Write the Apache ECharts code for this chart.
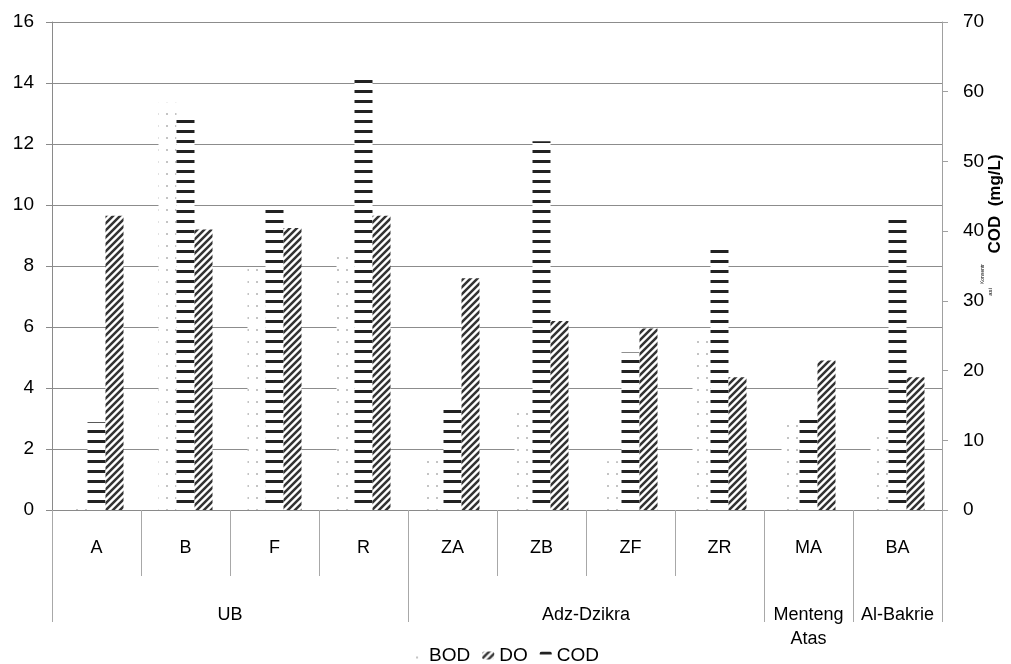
<!DOCTYPE html>
<html><head><meta charset="utf-8">
<script src="https://cdn.jsdelivr.net/npm/echarts@6/dist/echarts.min.js"></script>
<style>html,body{margin:0;padding:0;background:#fff}#c{width:1011px;height:664px}</style>
</head><body><div id="c"></div>
<script>
// ---- data ----
const categories = ['A','B','F','R','ZA','ZB','ZF','ZR','MA','BA'];
const groupNames = ['UB','Adz-Dzikra','Menteng\nAtas','Al-Bakrie'];
const groupSpans = [4,4,1,1];
const bodValues = [0.15, 13.35, 7.9, 8.3, 1.9, 3.5, 1.6, 5.7, 2.9, 2.6];
const doValues  = [9.65, 9.2, 9.25, 9.65, 7.6, 6.2, 5.95, 4.35, 4.9, 4.35];
const codValues = [12.6, 56.2, 43.6, 62.3, 15.1, 52.9, 22.6, 37.7, 13.8, 42.0];
const leftAxis = {min: 0, max: 16, interval: 2};
const rightAxis = {min: 0, max: 70, interval: 10};

// ---- patterns ----
function tile(w, h, draw){const c=document.createElement('canvas');c.width=w;c.height=h;const g=c.getContext('2d');g.fillStyle='#fff';g.fillRect(0,0,w,h);draw(g,w,h);return c;}
const codPat = tile(4, 10, (g,w,h)=>{g.fillStyle='#222';g.fillRect(0,0,w,3);});
const doPat = tile(7, 7, (g,s)=>{g.strokeStyle='#333';g.lineWidth=2.5;g.beginPath();
  g.moveTo(-1,1);g.lineTo(1,-1);g.moveTo(0,s);g.lineTo(s,0);g.moveTo(s-1,s+1);g.lineTo(s+1,s-1);g.stroke();});
const bodPat = tile(9, 12, (g)=>{g.fillStyle='#c4c4c4';g.fillRect(4,5,2,2);});

// group boundaries and centres derived from spans
const bounds=[0]; groupSpans.forEach(s=>bounds.push(bounds[bounds.length-1]+s));
const centres=groupSpans.map((s,i)=>bounds[i]+s/2);

const FONT='"Liberation Sans", Arial, sans-serif';
const chart = echarts.init(document.getElementById('c'));
chart.setOption({
  animation:false,
  textStyle:{fontFamily:FONT,color:'#000'},
  grid:{left:52, right:69, top:22, bottom:154, containLabel:false},
  legend:{data:['BOD','DO','COD'], top:641, left:'center', itemWidth:12, itemHeight:8, itemGap:12,
    textStyle:{fontSize:19,fontFamily:FONT,color:'#000'}},
  xAxis:[
    {type:'category', data:categories, position:'bottom',
     axisLine:{show:true,lineStyle:{color:'#8a8a8a'}},
     axisTick:{show:true,interval:0,length:66,lineStyle:{color:'#a8a8a8'}},
     axisLabel:{interval:0,fontSize:18,margin:29,color:'#000',fontFamily:FONT}},
    {type:'value', min:0, max:categories.length, position:'bottom',
     axisLine:{show:false}, splitLine:{show:false},
     axisTick:{show:true,customValues:bounds,length:112,lineStyle:{color:'#a8a8a8'}},
     axisLabel:{show:true,customValues:centres,margin:93,fontSize:18,lineHeight:24,color:'#000',fontFamily:FONT,
       formatter:(v)=>{const i=centres.indexOf(v);return i>=0?groupNames[i]:'';}}}
  ],
  yAxis:[
    {type:'value', min:leftAxis.min, max:leftAxis.max, interval:leftAxis.interval, position:'left',
     axisLine:{show:true,lineStyle:{color:'#8a8a8a'}},
     axisTick:{show:true,length:6,lineStyle:{color:'#8a8a8a'}},
     splitLine:{show:true,lineStyle:{color:'#8c8c8c',width:1}},
     axisLabel:{fontSize:19,margin:18,color:'#000',fontFamily:FONT}},
    {type:'value', min:rightAxis.min, max:rightAxis.max, interval:rightAxis.interval, position:'right',
     axisLine:{show:true,lineStyle:{color:'#a0a0a0'}},
     axisTick:{show:true,length:6,lineStyle:{color:'#a0a0a0'}},
     splitLine:{show:false},
     axisLabel:{fontSize:19,margin:21,color:'#000',fontFamily:FONT}}
  ],
  series:[
    {name:'BOD', type:'bar', xAxisIndex:0, yAxisIndex:0, data:bodValues, barWidth:18, barGap:'0%',
     itemStyle:{color:{image:bodPat,repeat:'repeat'}}},
    {name:'COD', type:'bar', xAxisIndex:0, yAxisIndex:1, data:codValues, barWidth:18, barGap:'0%',
     itemStyle:{color:{image:codPat,repeat:'repeat'}}},
    {name:'DO', type:'bar', xAxisIndex:0, yAxisIndex:0, data:doValues, barWidth:18, barGap:'0%',
     itemStyle:{color:{image:doPat,repeat:'repeat'}}}
  ],
  graphic:[
    {type:'text', x:995, y:204, rotation:Math.PI/2,
     style:{text:'COD  (mg/L)', font:'bold 17px '+FONT, fill:'#000', align:'center', verticalAlign:'middle'}},
    {type:'text', x:983, y:274, rotation:Math.PI/2,
     style:{text:'Konsentr', font:'5px '+FONT, fill:'#000', align:'center', verticalAlign:'middle'}},
    {type:'text', x:990, y:292, rotation:Math.PI/2,
     style:{text:'asi', font:'6px '+FONT, fill:'#000', align:'center', verticalAlign:'middle'}}
  ]
});
</script></body></html>
